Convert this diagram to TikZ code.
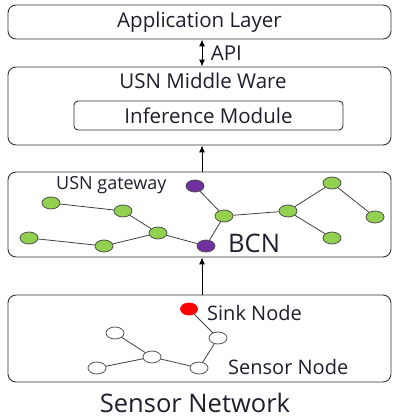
\documentclass[tikz,border=0pt]{standalone}
\usepackage{fontspec}
\setmainfont{Open Sans}
\usetikzlibrary{arrows.meta,shapes.geometric}
\definecolor{leaf}{RGB}{146,208,80}
\definecolor{gatecol}{RGB}{112,48,160}
\definecolor{ink}{RGB}{30,30,45}
\tikzset{
  layer/.style={draw=black!80, rounded corners=8pt, line width=0.9pt, minimum width=383pt, inner sep=0pt},
  bcnode/.style={ellipse, draw=black!70, fill=leaf, minimum width=18pt, minimum height=12pt, inner sep=0pt, line width=0.8pt},
  gate/.style={bcnode, fill=gatecol},
  sensor/.style={bcnode, fill=white},
  sink/.style={bcnode, draw=red, fill=red, minimum width=17pt},
  link/.style={draw=black!75, line width=0.8pt},
  flow/.style={line width=1pt, -{Latex[length=7pt,width=6pt]}}
}
\begin{document}
\begin{tikzpicture}[x=1pt,y=-1pt,line join=round,text=ink,font=\fontsize{20.5}{22}\selectfont]
\useasboundingbox (0,0) rectangle (392,419);
% layers
\node[layer, minimum height=34pt] (app) at (199.5,22) {Application Layer};
\node[layer, minimum height=78pt] (mw) at (199.5,106) {};
\node[layer, minimum height=85pt] (bcn) at (199.5,214.5) {};
\node[layer, minimum height=87pt] (sn) at (199.5,338.5) {};
\node (mwlabel) at (203,81) {USN Middle Ware};
\node[draw=black!80, rounded corners=4pt, line width=0.9pt, minimum width=269pt, minimum height=29pt, inner sep=0pt] (inf) at (208.5,115.5) {Inference Module};
\node (snlabel) at (195,403) {\fontsize{25.5}{27}\selectfont Sensor Network};
% arrows
\draw[flow, {Latex[length=7pt,width=6pt]}-{Latex[length=7pt,width=6pt]}] ([xshift=2.5pt]app.south) -- ([xshift=2.5pt]mw.north) node[midway, right=5pt] (api) {API};
\draw[flow] ([xshift=2.5pt]bcn.north) -- ([xshift=2.5pt]mw.south);
\draw[flow] ([xshift=2.5pt]sn.north) -- ([xshift=2.5pt]bcn.south);
% backbone network
\node[gate] (pt) at (195,186) {};
\node[gate] (pb) at (206,246) {};
\node[bcnode] (g1) at (51,203) {};
\node[bcnode] (g2) at (123,211) {};
\node[bcnode] (g3) at (29,238) {};
\node[bcnode] (g4) at (104,246) {};
\node[bcnode] (g5) at (158,233) {};
\node[bcnode] (g6) at (224,216) {};
\node[bcnode] (g7) at (288,211) {};
\node[bcnode] (g8) at (332,183) {};
\node[bcnode] (g9) at (375,217) {};
\node[bcnode] (g10) at (332,238) {};
\foreach \a/\b in {g1/g2,g2/g5,g3/g4,g4/g5,g5/pb,pb/g6,pt/g6,g6/g7,g7/g8,g8/g9,g7/g10}
  \draw[link] (\a) -- (\b);
\node[anchor=west, inner sep=0pt] (gwlabel) at (56,185) {\fontsize{18}{20}\selectfont USN gateway};
\node[anchor=west, inner sep=0pt] (bcnlabel) at (228,243) {\fontsize{25.5}{27}\selectfont BCN};
% sensor network
\node[sink] (sink) at (189,309) {};
\node[sensor] (s1) at (218,338) {};
\node[sensor] (s2) at (115,333) {};
\node[sensor] (s3) at (152,357) {};
\node[sensor] (s4) at (97,368) {};
\node[sensor] (s5) at (199,368) {};
\foreach \a/\b in {sink/s1,s1/s5,s5/s3,s3/s2,s3/s4}
  \draw[link] (\a) -- (\b);
\node[anchor=west, inner sep=0pt] (sinklabel) at (207,313) {\fontsize{20}{22}\selectfont Sink Node};
\node[anchor=west, inner sep=0pt] (sensorlabel) at (228,367) {\fontsize{20}{22}\selectfont Sensor Node};
\end{tikzpicture}
\end{document}
